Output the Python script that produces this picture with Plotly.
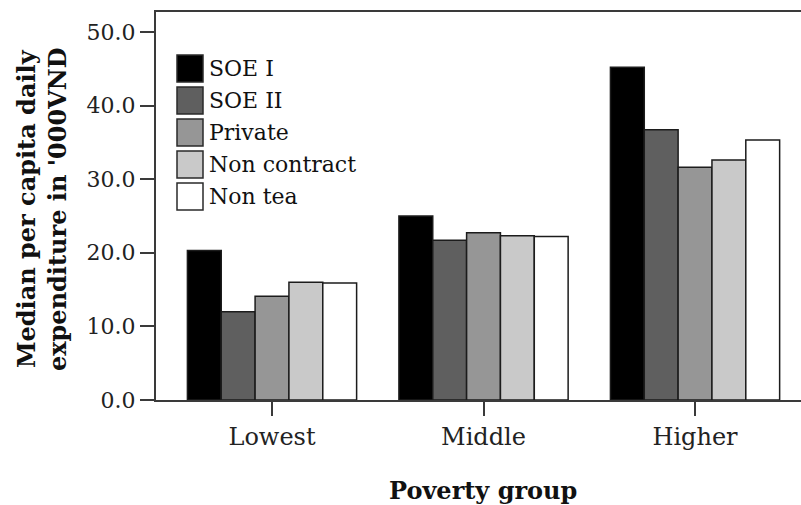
import plotly.graph_objects as go

# Poverty groups (x categories) and the household types plotted within each group
categories = ["Lowest", "Middle", "Higher"]
series_names = ["SOE I", "SOE II", "Private", "Non contract", "Non tea"]

# Median per capita daily expenditure ('000 VND) for each household type
soe_i = [20.3, 25.0, 45.2]
soe_ii = [12.0, 21.7, 36.7]
private = [14.1, 22.7, 31.6]
non_contract = [16.0, 22.3, 32.6]
non_tea = [15.9, 22.2, 35.3]

series_values = [soe_i, soe_ii, private, non_contract, non_tea]
fills = ["#000000", "#5f5f5f", "#969696", "#c9c9c9", "#ffffff"]

y_ticks = [0, 10, 20, 30, 40, 50]
y_tick_text = ["0.0", "10.0", "20.0", "30.0", "40.0", "50.0"]

FONT = "DejaVu Serif"
W, H = 801, 505
ML, MR, MT, MB = 156, 0, 12, 105
PW, PH = W - ML - MR, H - MT - MB

fig = go.Figure()
for name, vals, col in zip(series_names, series_values, fills):
    fig.add_trace(go.Bar(
        name=name, x=categories, y=vals,
        marker=dict(color=col, line=dict(color="#1c1c1c", width=1.5)),
        showlegend=False,
    ))

# Legend drawn as boxed swatches with labels, top-left inside the plot
def px_to_paper(px, py):
    return (px - ML) / PW, (MT + PH - py) / PH

shapes = []
annotations = []
sw_x0, sw_x1 = 177, 203
top0, step, sh = 55, 32, 27
for i, (name, col) in enumerate(zip(series_names, fills)):
    y0 = top0 + i * step
    ax0, ay1 = px_to_paper(sw_x0, y0)
    ax1, ay0 = px_to_paper(sw_x1, y0 + sh)
    shapes.append(dict(type="rect", xref="paper", yref="paper",
                       x0=ax0, x1=ax1, y0=ay0, y1=ay1,
                       fillcolor=col, line=dict(color="#2a2a2a", width=1.5)))
    tx, ty = px_to_paper(207, y0 + sh / 2)
    annotations.append(dict(text=name, xref="paper", yref="paper", x=tx, y=ty,
                            xanchor="left", yanchor="middle", showarrow=False,
                            font=dict(family=FONT, size=22, color="#111111")))

# Axis titles
tx, ty = px_to_paper(42, 209)
annotations.append(dict(text="<b>Median per capita daily<br>expenditure in '000VND</b>",
                        xref="paper", yref="paper", x=tx, y=ty, textangle=-90,
                        xanchor="center", yanchor="middle", showarrow=False,
                        font=dict(family=FONT, size=24, color="#111111")))
tx, ty = px_to_paper(483, 490)
annotations.append(dict(text="<b>Poverty group</b>", xref="paper", yref="paper",
                        x=tx, y=ty, xanchor="center", yanchor="middle",
                        showarrow=False,
                        font=dict(family=FONT, size=24, color="#111111")))

axis_col = "#3a3a3a"
fig.update_layout(
    width=W, height=H,
    margin=dict(l=ML, r=MR, t=MT, b=MB, pad=0),
    paper_bgcolor="white", plot_bgcolor="white",
    barmode="group", bargap=0.2, bargroupgap=0,
    showlegend=False,
    shapes=shapes, annotations=annotations,
    xaxis=dict(
        type="category", range=[-0.5485, 2.501],
        showline=True, linecolor=axis_col, linewidth=2, mirror=True,
        ticks="outside", ticklen=14, tickwidth=2, tickcolor=axis_col,
        showgrid=False, zeroline=False,
        tickfont=dict(family=FONT, size=24, color="#222222"),
    ),
    yaxis=dict(
        range=[0, 52.7],
        tickvals=y_ticks, ticktext=y_tick_text,
        showline=True, linecolor=axis_col, linewidth=2, mirror=False,
        ticks="outside", ticklen=14, tickwidth=2, tickcolor=axis_col,
        showgrid=False, zeroline=False,
        tickfont=dict(family=FONT, size=22, color="#222222"),
    ),
)

fig.write_html("out.html")
